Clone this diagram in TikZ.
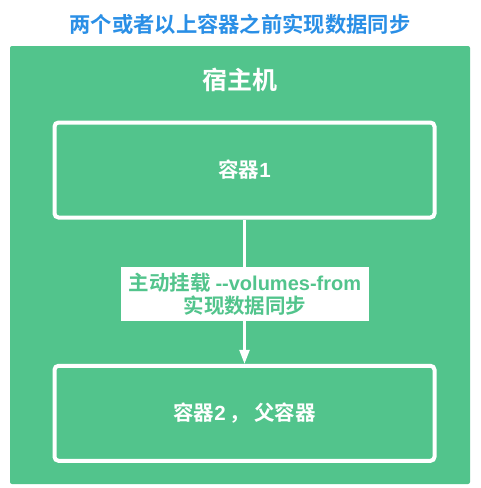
\documentclass[tikz,border=0pt]{standalone}
\usepackage{fontspec}
\setmainfont{Noto Sans CJK SC Bold}
\newfontfamily\latinbold{Liberation Sans Bold}
\usetikzlibrary{arrows.meta}
\definecolor{hostgreen}{HTML}{52C48C}
\definecolor{titleblue}{HTML}{2A8FE6}
\begin{document}
\begin{tikzpicture}[x=1pt,y=-1pt,
  hostbox/.style={fill=hostgreen, draw=none, rounded corners=2pt},
  ctrbox/.style={draw=white, line width=4pt, rounded corners=4pt, minimum width=380pt, minimum height=95pt, text=white, font=\fontsize{20.5}{24}\selectfont},
  linkstyle/.style={draw=white, line width=2.5pt, -{Triangle[width=10pt,length=14pt]}},
  lbl/.style={fill=white, text=hostgreen, align=center, minimum width=248pt, minimum height=54pt, inner sep=0pt, font=\fontsize{20.5}{23}\selectfont}
]
\useasboundingbox (0,0) rectangle (481,488);
\fill[white] (0,0) rectangle (481,488);
\node[text=titleblue, font=\fontsize{21.3}{24}\selectfont] (title) at (240,24) {两个或者以上容器之前实现数据同步};
\path[hostbox] (10,46) rectangle (470,484);
\node[text=white, font=\fontsize{25}{28}\selectfont] (host) at (240,80) {宿主机};
\node[ctrbox] (c1) at (244.5,170) {容器{\latinbold 1}};
\node[ctrbox] (c2) at (244.5,413.3) {容器{\latinbold 2}\,， 父容器};
\draw[linkstyle] (c1.south) -- (c2.north);
\node[lbl] (l) at (245,294) {主动挂载 {\latinbold\fontsize{20}{23}\selectfont -{}-volumes-from}\\实现数据同步};
\end{tikzpicture}
\end{document}
